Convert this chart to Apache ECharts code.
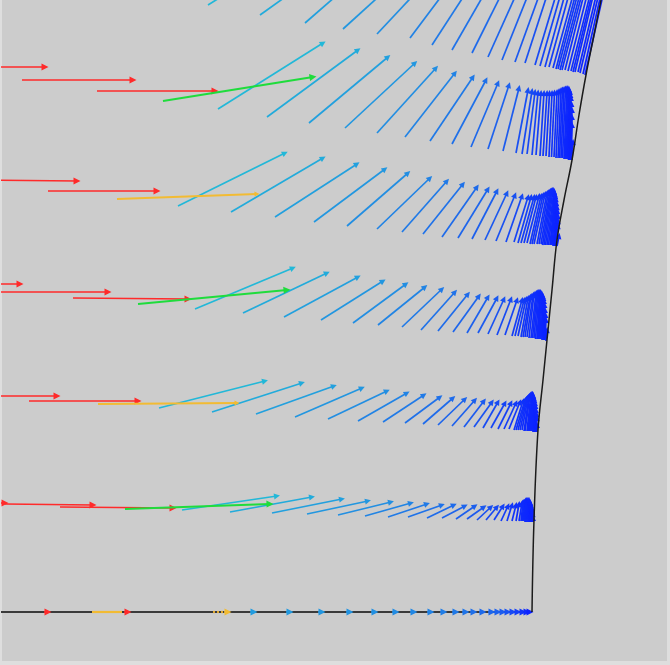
<!DOCTYPE html>
<html>
<head>
<meta charset="utf-8">
<script src="https://cdn.jsdelivr.net/npm/echarts@6/dist/echarts.min.js"></script>
<style>html,body{margin:0;padding:0;background:#dedede;}#c{width:670px;height:665px;}</style>
</head>
<body>
<div id="c"></div>
<script>
// Each vector: [tailX, tailY, headX, headY] (y measured downward)
const rowA = [
[182,510,277,496],[230,512,312,497],[272,513,342,499],[307,514,368,501],[338,515,391,502],
[365,516,411,503],[388,517,427,504],[408,517,442,505],[427,518,454,505],[442,518,465,506],
[456,519,475,506],[467,519,484,507],[477,520,491,507],[486,520,497,507],[494,520,503,506],
[501,521,508,506],[507,521,512,505],[512,521,516,505],[516,521,519,504],[519,521,522,503],
[521,521,523,502],[522,521,524,502],[523,521,525,501],[524,521,526,501],[525,522,526,500],
[526,522,527,500],[527,522,528,500],[528,522,529,500],[529,522,530,502],[529.5,522,530.5,503],
[530,522,531,505],[530.5,522,531.5,507],[531,522,532,509],[531.5,522,532.5,511],[532,522,533,514],
[533,522,533,518]
];
const rowB = [
[159,408,265,381],[212,412,302,383],[256,414,334,386],[295,417,362,388],[328,419,387,391],
[358,421,407,393],[383,422,424,395],[405,423,440,397],[423,424,453,398],[438,425,465,399],
[452,426,475,400],[464,427,484,401],[474,427,492,402],[483,428,498,402],[491,428,505,403],
[498,429,511,403],[504,429,516,403],[509,429,520,402],[514,430,523,401],[516,430,525,400],
[518,430,526,399],[520,430,527,398],[522,430,528,397],[524,431,529,396],[525,431,530,395],
[527,431,531,394],[528,431,532,394],[529,431,532.5,394],[530,431,533,395],[531,431,533.5,396],
[532,431,534,398],[533,432,534.5,400],[534,432,535,403],[534.5,432,535.5,406],[535,432,536,410],
[535.5,432,536.5,414],[536,432,537,418],[537,432,537,425]
];
const rowC = [
[195,309,293,268],[243,313,327,273],[284,317,358,277],[321,320,383,281],[353,323,406,284],
[378,325,425,287],[402,327,442,289],[421,330,455,292],[438,331,468,294],[453,332,479,296],
[467,333,488,297],[478,333,497,298],[488,334,504,299],[497,335,511,299],[505,335,517,300],
[512,336,522,300],[515,336,524,300],[518,336,526,299],[521,337,528,298],[523,337,530,297],
[525,337,531,296],[527,337,533,295],[529,338,534,294],[531,338,536,293],[532.5,338,537,292.5],
[534,338,538,292],[535.5,339,539,292],[537,339,540,292],[538,339,540.5,292.5],[539,339,541,293],
[540,339,542,294],[541,339,543,296],[542,340,543.5,298],[543,340,544,301],[543.5,340,544.5,305],
[544,340,545,310],[544.5,340,545.5,315],[545,340,546,320],[546,341,547,330]
];
const rowD = [
[178,206,285,153],[231,212,323,158],[275,217,357,164],[314,222,385,169],[347,226,408,173],
[377,229,430,178],[402,232,447,181],[423,234,463,184],[442,237,477,187],[458,238,488,189],
[472,239,497,191],[485,240,507,193],[496,241,515,195],[506,242,522,196],[514,242,528,197],
[518,243,531,197],[521,243,534,197],[524,243,536,197],[527,243,539,196],[530,244,541,196],
[532,244,543,195],[534,244,545,194],[537,244,547,193],[539,244,548.5,192],[541,244,550,191],
[542.5,245,551,190.5],[544,245,552,190],[545.5,245,553,190],[547,245,554,191],[548.5,245,554.5,192],
[550,245,555,194],[551,245,555.5,196],[552,245,556,199],[553,246,556.5,203],[554,246,557,207],
[554.5,246,557.5,211],[555,246,558,216],[555.5,246,558,221],[556,246,558,226],[557,246,559,236]
];
const rowE = [
[218,109,323,43],[267,117,358,50],[309,123,388,57],[345,128,415,63],[377,133,436,68],
[405,137,455,73],[430,141,473,77],[452,144,486,80],[471,147,498,83],[488,149,509,85],
[503,151,519,88],[516,153,528,90],[522,154,532,91],[527,154,535,92],[532,155,538,92.5],
[536,155,541,93],[540,156,544,93],[543,156,547,93],[546,156,549.5,93],[549,157,552,93],
[551.5,157,554.5,92.5],[554,157,557,92],[556,158,559,91],[558,158,561,90],[559.5,158,562.5,89.5],
[561,158,564,89],[562.5,158,565.5,88.5],[564,159,567,88],[565,159,568,88.5],[566,159,569,89],
[567,159,569.5,90.5],[568,159,570,92],[568.5,160,570.5,95],[569,160,571,98],[569.5,160,571.5,104],
[570,160,572,110],[570.5,160,572,117],[571,160,572,125],[572,160,573,142]
];
const rowF = [
[208,5,336,-75],[260,15,372,-65],[305,23,397,-57],[343,29,431,-51],[377,34,452,-46],
[410,38,470,-42],[432,45,484,-35],[452,50,498,-30],[472,53,512,-27],[488,57,524,-23],
[502,60,534,-20],[515,62,544,-18],[525,63,551,-17],[535,65,559,-15],[540,66,563,-14],
[545,67,567,-13],[549,67,571,-13],[553,68,575,-12],[556,69,577,-11],[558,69,579,-11],
[560,70,581,-10],[562,70,583,-10],[565,70,585,-10],[568,71,588,-9],[571,71,591,-9],
[573,72,592.5,-8],[575,72,594,-8],[578,72,597,-8],[580,73,599,-7],[583,74,601,-6],
[585,75,603,-5]
];
const redArrows = [
[-40,67,45,67],[22,80,133,80],[97,91,215,91],
[-40,180,77,181],[48,191,157,191],
[-40,284,20,284],[-20,292,108,292],[73,298,188,299],
[-40,396,57,396],[29,401,138,401],
[-40,503,5,503],[5,504,93,505],[60,507,173,508]
];
const orangeArrows = [[117,199,257,194],[98,404,237,403]];
const greenArrows = [[163,101,313,77],[138,304,287,290],[125,509,270,504]];
// bottom symmetry line
const axisY = 612;
const axisRedHeads = [48,128];
const axisOrangeHeads = [228];
const axisOrangeSegment = [92,122];
const axisOrangeDashed = [213,226];
const axisBlueHeads = [254,290,322,350,375,396,414,431,444,456,466,474,483,492,498,503,508,513,518,523,527,530];
// wall
const wallX = [532,534,538,543,547,552,557,564,572,579,586,594,601];
const wallY = [612,520,430,380,340,290,240,200,160,115,75,35,0];

const stops = [[0,[34,184,216]],[0.45,[34,142,226]],[0.8,[28,92,238]],[1,[12,34,255]]];
function blueAt(t){
  t = Math.max(0, Math.min(1, t));
  for (let i = 1; i < stops.length; i++) {
    if (t <= stops[i][0]) {
      const a = stops[i-1], b = stops[i];
      const f = (t - a[0]) / (b[0] - a[0]);
      const c = a[1].map((v, k) => Math.round(v + (b[1][k] - v) * f));
      return 'rgb(' + c.join(',') + ')';
    }
  }
  return 'rgb(12,34,255)';
}
function fanItems(row){
  const x0 = row[0][0], x1 = row[row.length-1][0];
  return row.map(v => ({
    coords: [[v[0], v[1]], [v[2], v[3]]],
    lineStyle: { color: blueAt((v[0] - x0) / (x1 - x0)) }
  }));
}
function plainItems(arr, color){
  return arr.map(v => ({ coords: [[v[0], v[1]], [v[2], v[3]]], lineStyle: { color: color } }));
}
function arrowSeries(data, width, size, z){
  return {
    type: 'lines', coordinateSystem: 'cartesian2d', data: data,
    symbol: ['none', 'triangle'], symbolSize: size, z: z, silent: true, animation: false,
    lineStyle: { width: width, opacity: 1, curveness: 0 }
  };
}

const fans = [].concat(fanItems(rowA), fanItems(rowB), fanItems(rowC), fanItems(rowD), fanItems(rowE), fanItems(rowF));
const axisHeadItems = []
  .concat(axisRedHeads.map(x => ({ coords: [[x-4, axisY], [x, axisY]], lineStyle: { color: '#ff2a2a' } })))
  .concat(axisOrangeHeads.map(x => ({ coords: [[x-4, axisY], [x, axisY]], lineStyle: { color: '#f2bb33' } })))
  .concat(axisBlueHeads.map((x, i) => ({ coords: [[x-4, axisY], [x, axisY]], lineStyle: { color: blueAt(0.3 + 0.7 * i / (axisBlueHeads.length - 1)) } })));

const chart = echarts.init(document.getElementById('c'));
chart.setOption({
  backgroundColor: '#dedede',
  animation: false,
  grid: { left: 2, right: 3, top: 0, bottom: 4, show: true, backgroundColor: '#cccccc', borderWidth: 0 },
  xAxis: { type: 'value', min: 2, max: 667, show: false },
  yAxis: { type: 'value', min: 0, max: 661, inverse: true, show: false },
  series: [
    { type: 'line', data: wallX.map((x, i) => [x, wallY[i]]), smooth: 0.4, showSymbol: false, symbol: 'none',
      lineStyle: { color: '#1a1a1a', width: 1.5 }, z: 5, silent: true },
    { type: 'line', data: [[0, axisY], [532, axisY]], showSymbol: false, symbol: 'none',
      lineStyle: { color: '#3a3a3a', width: 2 }, z: 2, silent: true },
    { type: 'line', data: [[axisOrangeSegment[0], axisY], [axisOrangeSegment[1], axisY]], showSymbol: false, symbol: 'none',
      lineStyle: { color: '#f2bb33', width: 2.2 }, z: 3, silent: true },
    { type: 'line', data: [[axisOrangeDashed[0], axisY], [axisOrangeDashed[1], axisY]], showSymbol: false, symbol: 'none',
      lineStyle: { color: '#e0a830', width: 2.2, type: [2, 2] }, z: 3, silent: true },
    arrowSeries(axisHeadItems, 1.5, 7, 4),
    arrowSeries(fans, 1.7, 6, 3),
    arrowSeries(plainItems(redArrows, '#ff2a2a'), 1.5, 7, 4),
    arrowSeries(plainItems(orangeArrows, '#f2bb33'), 1.8, 5, 4),
    arrowSeries(plainItems(greenArrows, '#1fdc3c'), 2, 7, 4)
  ]
});
</script>
</body>
</html>
